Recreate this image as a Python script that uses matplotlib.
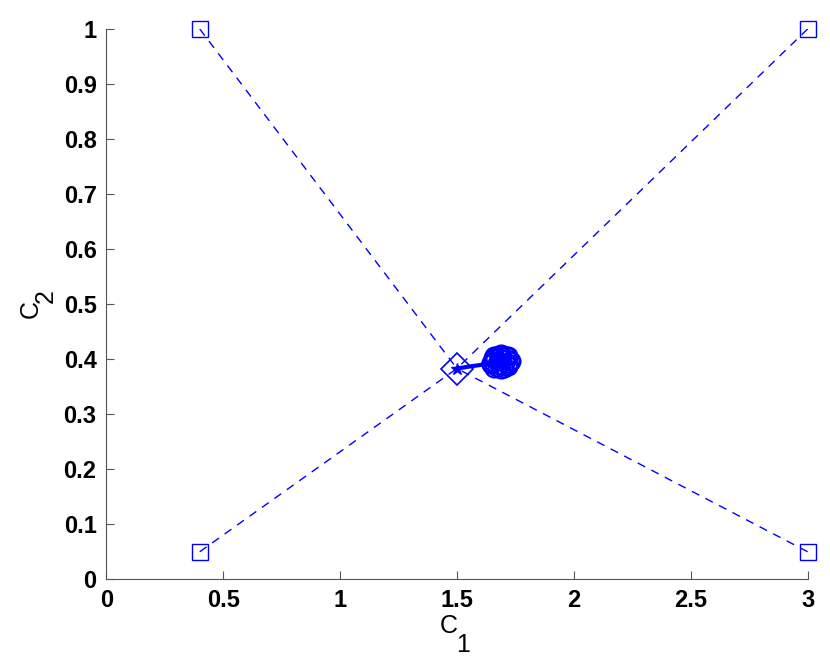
import matplotlib
matplotlib.use('Agg')
import matplotlib.pyplot as plt

plt.rcParams['font.family'] = ['Liberation Sans', 'DejaVu Sans']

# corner points and the crossing point
corners_x = [0.4, 3.0, 0.4, 3.0]
corners_y = [1.0, 1.0, 0.05, 0.05]
center_x = 1.5
center_y = 0.383

# trajectory that ends circling in a small blob
traj_x = [1.5, 1.56, 1.61, 1.645, 1.66, 1.69, 1.72, 1.73, 1.72, 1.69, 1.66, 1.645,
          1.655, 1.68, 1.71, 1.725, 1.72, 1.70, 1.67, 1.655, 1.665, 1.69, 1.715,
          1.72, 1.70, 1.68, 1.675, 1.69]
traj_y = [0.383, 0.387, 0.390, 0.393, 0.405, 0.409, 0.406, 0.397, 0.387, 0.382,
          0.384, 0.392, 0.402, 0.407, 0.405, 0.397, 0.389, 0.384, 0.386, 0.395,
          0.403, 0.406, 0.401, 0.393, 0.387, 0.389, 0.397, 0.401]

W, H = 830, 659
fig = plt.figure(figsize=(W / 100, H / 100), dpi=100)
ax = fig.add_axes([0.128, 0.121, 0.845, 0.835])

blue = '#0000ff'
for cx, cy in zip(corners_x, corners_y):
    ax.plot([cx, center_x], [cy, center_y], '--', color=blue, lw=1, dashes=(6, 5))
ax.plot(corners_x, corners_y, 's', mfc='none', mec=blue, ms=12, mew=1, clip_on=False)
ax.plot(center_x, center_y, 'D', mfc='none', mec=blue, ms=16, mew=1.2)
ax.plot(center_x, center_y, '*', color=blue, ms=9)
ax.plot(traj_x[:4], traj_y[:4], '-', color=blue, lw=3)
ax.plot(traj_x[3:], traj_y[3:], '-o', color=blue, mfc='none', mec=blue, ms=13,
        mew=1.5, lw=2)

ax.set_xlim(0, 3)
ax.set_ylim(0, 1)
ax.set_xticks([0, 0.5, 1, 1.5, 2, 2.5, 3])
ax.set_xticklabels(['0', '0.5', '1', '1.5', '2', '2.5', '3'])
ax.set_yticks([i / 10 for i in range(11)])
ax.set_yticklabels(['0', '0.1', '0.2', '0.3', '0.4', '0.5', '0.6', '0.7', '0.8', '0.9', '1'])

for s in ['top', 'right']:
    ax.spines[s].set_visible(False)
for s in ['left', 'bottom']:
    ax.spines[s].set_color('#555555')
ax.tick_params(direction='in', length=6, color='#555555', labelsize=17, pad=7)
for lbl in ax.get_xticklabels() + ax.get_yticklabels():
    lbl.set_fontweight('bold')

# axis labels with full-size, lowered subscripts (MATLAB style)
lab = dict(fontsize=18, rotation_mode='anchor')
fig.text(449 / W, 1 - 633 / H, 'C', ha='center', va='baseline', **lab)
fig.text(463 / W, 1 - 652 / H, '1', ha='center', va='baseline', **lab)
fig.text(38 / W, 1 - 309 / H, 'C', ha='center', va='baseline', rotation=90, **lab)
fig.text(53 / W, 1 - 296 / H, '2', ha='center', va='baseline', rotation=90, **lab)

fig.savefig('out.png', dpi=100)
